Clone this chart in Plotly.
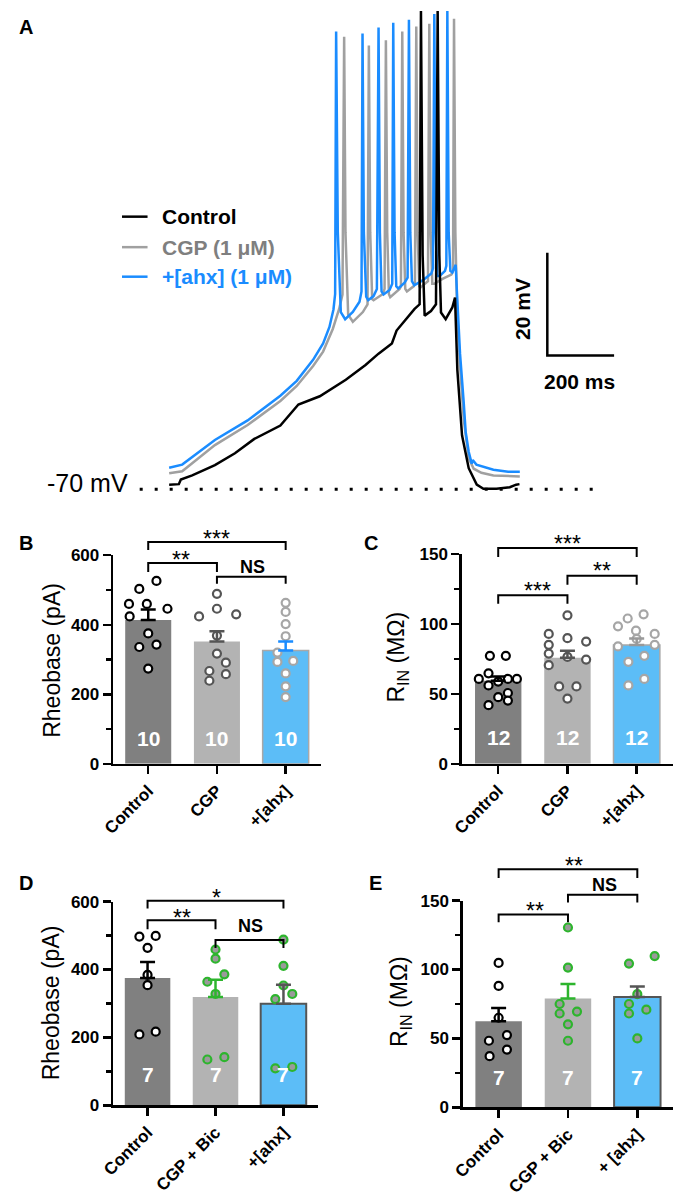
import plotly.graph_objects as go

W, H = 675, 1199
FONT = "Arial, 'Liberation Sans', sans-serif"

# ---------------- Panel A data: membrane potential traces (ms, mV) ----------------
ctrl_t = [0, 29, 35, 69, 137, 197, 255, 333, 387, 451, 529, 588, 627, 667, 681, 706, 735, 750,
          754, 759, 765, 784, 799, 804, 809, 814, 828, 848, 856, 863, 877, 897, 921, 941, 980,
          1020, 1039, 1049]
ctrl_v = [-69.1, -69.0, -68.1, -67.3, -65.3, -63.0, -60.2, -57.6, -53.5, -51.9, -48.7, -45.8,
          -43.6, -41.6, -39.1, -37.2, -34.9, -34.0, 23.1, -24.4, -36.2, -35.3, -34.0, 23.1,
          -24.4, -35.6, -36.9, -34.6, -32.7, -46.8, -59.5, -65.9, -69.1, -69.9, -69.9, -69.6,
          -69.1, -69.0]

cgp_t = [0, 39, 137, 235, 333, 382, 431, 461, 490, 509, 519, 524, 528, 536, 550, 580, 594, 598,
         602, 608, 612, 640, 645, 649, 653, 658, 662, 690, 694, 698, 702, 707, 712, 732, 736,
         740, 744, 749, 753, 770, 775, 779, 783, 788, 794, 820, 845, 850, 853, 857, 862, 871,
         882, 897, 912, 935, 971, 1050]
cgp_v = [-66.9, -66.5, -61.4, -57.5, -52.8, -49.9, -46.0, -43.2, -38.8, -34.9, -32.1, 18.1,
         -20, -36, -37.4, -35.5, -34, 16.4, -20, -33, -33.2, -32, -31, 17.4, -20, -32, -32.6,
         -31, -30.5, 19.1, -20, -31, -31.5, -30.5, -30, 20.1, -20, -30.5, -30.7, -29.8, -29.5,
         20.6, -20, -30, -30.0, -29, -28.2, -27.5, 21.6, -20, -35, -46.0, -56.3, -64.0, -66.0,
         -66.8, -67.3, -67.5]

ahx_t = [0, 39, 137, 235, 333, 382, 431, 461, 480, 492, 497, 500, 505, 514, 527, 550, 570, 576,
         579, 583, 590, 596, 612, 622, 627, 631, 636, 642, 660, 668, 671, 675, 680, 686, 705,
         714, 718, 722, 727, 734, 760, 785, 790, 794, 798, 803, 810, 826, 830, 833, 837, 842,
         848, 858, 862, 871, 882, 888, 897, 906, 909, 920, 971, 1015, 1050]
ahx_v = [-65.8, -65.2, -60.4, -56.6, -51.8, -48.9, -44.8, -41.6, -38.4, -35.0, -32.0, 19.1,
         -20, -35.5, -36.9, -35.5, -33.5, -31.5, 18.7, -20, -32.5, -33.2, -32.4, -31.0, 19.9,
         -20, -31.5, -32.1, -31.2, -30.0, 20.8, -20, -30.5, -30.9, -29.8, -28.8, 21.4, -20,
         -29.5, -30.3, -29.3, -28.0, -27.0, 22.5, -20, -28.5, -28.5, -27.5, -26.5, 23.1, -20,
         -27.5, -27.8, -26.3, -32, -43.6, -53.1, -58.9, -62.7, -65.0, -64.3, -65.2, -66.2,
         -66.6, -66.6]

trace_names = ["Control", "CGP (1 \u03bcM)", "+[ahx] (1 \u03bcM)"]
SCALE_MS = 200
SCALE_MV = 20
REST_MV = -70

# ---------------- Panel B: rheobase (pA) ----------------
B_labels = ["Control", "CGP", "+[ahx]"]
B_mean = [414, 352, 326]
B_sem = [30, 29, 26]
B_n = ["10", "10", "10"]
B_ctrl = [526, 503, 460, 460, 446, 424, 375, 336, 343, 274]
B_cgp = [489, 424, 446, 430, 369, 317, 291, 267, 258, 239]
B_ahx = [463, 437, 402, 367, 320, 296, 293, 260, 223, 192]
B_sig = ["***", "**", "NS"]

# ---------------- Panel C: input resistance (MOhm) ----------------
C_labels = ["Control", "CGP", "+[ahx]"]
C_mean = [59.5, 76, 85]
C_sem = [3, 5, 4.7]
C_n = ["12", "12", "12"]
C_ctrl = [77.3, 77.3, 64.8, 60.8, 58.9, 60.8, 60.8, 56.1, 50.7, 47.7, 45.3, 42.0]
C_cgp = [106.3, 93, 89.9, 87.5, 85.2, 78.9, 76.5, 74.6, 70.6, 55.4, 55.4, 46.7]
C_ahx = [98.4, 104, 107, 95.3, 93, 84, 85.2, 89.4, 73, 77.3, 56.1, 60.8]
C_sig = ["***", "**", "***"]

# ---------------- Panel D: rheobase (pA), with bicuculline ----------------
D_labels = ["Control", "CGP + Bic", "+[ahx]"]
D_mean = [375, 319, 299]
D_sem = [47, 51, 56]
D_n = ["7", "7", "7"]
D_ctrl = [497, 499, 464, 384, 354, 209, 217]
D_cgp = [459, 432, 386, 364, 328, 135, 142]
D_ahx = [488, 411, 353, 313, 328, 109, 113]
D_sig = ["*", "**", "NS"]

# ---------------- Panel E: input resistance (MOhm), with bicuculline ----------------
E_labels = ["Control", "CGP + Bic", "+ [ahx]"]
E_mean = [62.5, 79, 80]
E_sem = [9.6, 10.5, 7.6]
E_n = ["7", "7", "7"]
E_ctrl = [104.8, 88.1, 65, 48.3, 52.4, 37.1, 41.9]
E_cgp = [130.5, 101.4, 75, 68.1, 69.5, 60.2, 48.3]
E_ahx = [109.8, 104.3, 82.1, 75, 68.1, 70.9, 50]
E_sig = ["**", "NS", "**"]

# ---------------- jitter offsets of the scatter dots (category units) ----------------
B_ctrl_jit = [0.12, -0.13, -0.28, -0.02, 0.28, -0.27, 0, -0.13, 0.12, 0]
B_cgp_jit = [0, -0.26, 0, 0.28, 0, 0, 0.13, -0.11, 0.13, -0.11]
B_ahx_jit = [0, 0, 0, 0, -0.12, 0.11, -0.12, 0, 0, 0]
C_ctrl_jit = [-0.12, 0.11, -0.14, -0.28, 0, 0.14, 0.27, -0.14, 0.14, 0, 0.14, -0.14]
C_cgp_jit = [0, -0.27, 0, 0.27, -0.27, -0.27, 0, 0.27, -0.27, -0.12, 0.13, 0]
C_ahx_jit = [-0.27, -0.13, 0.1, -0.01, 0.26, -0.27, 0.26, 0, -0.12, 0.11, -0.12, 0.11]
D_ctrl_jit = [-0.12, 0.12, 0, 0, 0, -0.12, 0.12]
D_cgp_jit = [0, 0, 0.13, -0.12, 0, -0.12, 0.13]
D_ahx_jit = [0, 0, 0, -0.12, 0.13, -0.12, 0.13]
E_ctrl_jit = [0, 0, 0, -0.14, 0.12, -0.13, 0.12]
E_cgp_jit = [0, 0, -0.12, -0.12, 0.13, 0, 0]
E_ahx_jit = [0.25, -0.12, 0, -0.12, -0.12, 0.13, 0]

# ---------------- styles ----------------
TR_COLORS = ["#000000", "#a0a0a0", "#1a8cff"]
LEG_TEXT = ["#000000", "#7f7f7f", "#1a8cff"]
BAR_FILL = ["#808080", "#b3b3b3", "#5cbdf7"]
GREEN = "#2db52d"


def xp(p):
    return p / W


def yp(p):
    return 1 - p / H


def txt(text, x, y, size, color="black", xanchor="center", yanchor="middle", angle=0,
        xref="paper", yref="paper"):
    return dict(text=text, x=x, y=y, xref=xref, yref=yref, xanchor=xanchor, yanchor=yanchor,
                textangle=angle, showarrow=False, font=dict(family=FONT, size=size, color=color))


fig = go.Figure()
annotations = []
shapes = []

# ================= Panel A =================
# pixel mapping: t=0 at x=160 px, 0.34 px/ms ; -70 mV at y=488 px, 5.22 px/mV
A_xrange = [(0 - 160) / 0.34, (W - 160) / 0.34]
A_yrange = [REST_MV - (500 - 488) / 5.22, REST_MV + 488 / 5.22]
for t, v, c in [(cgp_t, cgp_v, TR_COLORS[1]), (ahx_t, ahx_v, TR_COLORS[2]), (ctrl_t, ctrl_v, TR_COLORS[0])]:
    fig.add_trace(go.Scatter(x=t, y=v, mode="lines", line=dict(color=c, width=2.5),
                             xaxis="x", yaxis="y", showlegend=False, cliponaxis=False,
                             hoverinfo="skip"))

# dotted -70 mV baseline
shapes.append(dict(type="line", xref="x", yref="y", x0=(130 - 160) / 0.34, x1=(600 - 160) / 0.34,
                   y0=REST_MV, y1=REST_MV, line=dict(color="black", width=3, dash="3px,12px")))
annotations.append(txt("-70 mV", xp(120), yp(482), 25, xanchor="right"))
# scale bar
sb_t0 = (545 - 160) / 0.34
sb_v0 = REST_MV + (488 - 352) / 5.22
shapes.append(dict(type="path", xref="x", yref="y",
                   path=f"M {sb_t0},{sb_v0 + SCALE_MV} L {sb_t0},{sb_v0} L {sb_t0 + SCALE_MS},{sb_v0}",
                   line=dict(color="black", width=2.5)))
annotations.append(txt(f"<b>{SCALE_MV} mV</b>", xp(519), yp(305), 21, angle=-90))
annotations.append(txt(f"<b>{SCALE_MS} ms</b>", xp(578), yp(378), 21))
# legend
for i, (nm, yy) in enumerate(zip(trace_names, [211, 242, 272])):
    shapes.append(dict(type="line", xref="paper", yref="paper", x0=xp(112), x1=xp(138),
                       y0=yp(yy), y1=yp(yy), line=dict(color=TR_COLORS[i], width=2.5)))
    annotations.append(txt(f"<b>{nm}</b>", xp(151), yp(yy), 21, color=LEG_TEXT[i], xanchor="left"))

# panel letters
for L, xx, yy in [("A", 14, 18), ("B", 14, 543), ("C", 365, 543), ("D", 14, 888), ("E", 370, 888)]:
    annotations.append(txt(f"<b>{L}</b>", xp(xx), yp(yy), 20))

layout_axes = {
    "xaxis": dict(domain=[0, 1], range=A_xrange, visible=False, fixedrange=True),
    "yaxis": dict(domain=[yp(500), 1], range=A_yrange, visible=False, fixedrange=True),
}

# ================= Bar panels =================
panels = [
    dict(k=2, labels=B_labels, mean=B_mean, sem=B_sem, n=B_n, sig=B_sig,
         groups=[(B_ctrl, B_ctrl_jit), (B_cgp, B_cgp_jit), (B_ahx, B_ahx_jit)],
         xpix=(103, 315), xr=(-0.51, 2.52), ypix=(767, 555), ymax=600,
         major=[0, 200, 400, 600], minor=[100, 300, 500], ntext_y=72,
         bar_line=["#808080", "#b3b3b3", "#a8a8a8"], bar_lw=[0, 0, 1.5],
         err=["#000000", "#555555", "#1a8cff"],
         dot_fill=["white", "white", "white"], dot_line=["#000000", "#555555", "#a6a6a6"],
         title="Rheobase (pA)", title_xy=(40, 662),
         brackets=[(0, 2, 541.7, 8, 1.0, 534), (0, 1, 563, 9, 0.48, 555), (1, 2, 577, 7, 1.52, 567)]),
    dict(k=3, labels=C_labels, mean=C_mean, sem=C_sem, n=C_n, sig=C_sig,
         groups=[(C_ctrl, C_ctrl_jit), (C_cgp, C_cgp_jit), (C_ahx, C_ahx_jit)],
         xpix=(458, 673), xr=(-0.525, 2.525), ypix=(767, 554), ymax=150,
         major=[0, 50, 100, 150], minor=[25, 75, 125], ntext_y=19,
         bar_line=["#808080", "#b3b3b3", "#a8a8a8"], bar_lw=[0, 0, 1.5],
         err=["#000000", "#555555", "#999999"],
         dot_fill=["white", "white", "white"], dot_line=["#000000", "#555555", "#a6a6a6"],
         title="R<sub>IN</sub> (M\u03a9)", title_xy=(393, 659),
         brackets=[(0, 2, 547.7, 9, 1.0, 539), (1, 2, 576, 9, 1.5, 566), (0, 1, 595.7, 8.5, 0.57, 586)]),
    dict(k=4, labels=D_labels, mean=D_mean, sem=D_sem, n=D_n, sig=D_sig,
         groups=[(D_ctrl, D_ctrl_jit), (D_cgp, D_cgp_jit), (D_ahx, D_ahx_jit)],
         xpix=(103, 312), xr=(-0.506, 2.515), ypix=(1114, 907), ymax=600,
         major=[0, 200, 400, 600], minor=[100, 300, 500], ntext_y=90,
         bar_line=["#808080", "#b3b3b3", "#555555"], bar_lw=[0, 0, 2],
         err=["#000000", GREEN, "#555555"],
         dot_fill=["white", "#9a9a9a", "#9a9a9a"], dot_line=["#000000", GREEN, GREEN],
         title="Rheobase (pA)", title_xy=(40, 1010),
         brackets=[(0, 2, 906, 8, 1.02, 898), (0, 1, 926, 9, 0.5, 919), (1, 2, 946, 8, 1.51, 932)]),
    dict(k=5, labels=E_labels, mean=E_mean, sem=E_sem, n=E_n, sig=E_sig,
         groups=[(E_ctrl, E_ctrl_jit), (E_cgp, E_cgp_jit), (E_ahx, E_ahx_jit)],
         xpix=(459, 673), xr=(-0.516, 2.515), ypix=(1116, 906), ymax=150,
         major=[0, 50, 100, 150], minor=[25, 75, 125], ntext_y=22,
         bar_line=["#808080", "#b3b3b3", "#555555"], bar_lw=[0, 0, 2],
         err=["#000000", GREEN, "#555555"],
         dot_fill=["white", "#9a9a9a", "#9a9a9a"], dot_line=["#000000", GREEN, GREEN],
         title="R<sub>IN</sub> (M\u03a9)", title_xy=(395, 1008),
         brackets=[(0, 2, 874, 9, 1.08, 866), (1, 2, 900, 8, 1.52, 890), (0, 1, 920, 8, 0.53, 912)]),
]

for P in panels:
    k = P["k"]
    xa, ya = f"x{k}", f"y{k}"
    idx = [0, 1, 2]
    # bars
    fig.add_trace(go.Bar(x=idx, y=P["mean"], width=0.67, xaxis=xa, yaxis=ya,
                         marker=dict(color=BAR_FILL, line=dict(color=P["bar_line"], width=P["bar_lw"])),
                         showlegend=False, hoverinfo="skip"))
    # dots
    for g, (vals, jit) in enumerate(P["groups"]):
        fig.add_trace(go.Scatter(x=[g + j for j in jit], y=vals, mode="markers", xaxis=xa, yaxis=ya,
                                 marker=dict(size=8, color=P["dot_fill"][g],
                                             line=dict(color=P["dot_line"][g], width=2.2)),
                                 cliponaxis=False, showlegend=False, hoverinfo="skip"))
    # error bars (SEM, upward only)
    for g in idx:
        fig.add_trace(go.Scatter(x=[g], y=[P["mean"][g]], mode="markers", xaxis=xa, yaxis=ya,
                                 marker=dict(size=1, color="rgba(0,0,0,0)"),
                                 error_y=dict(type="data", array=[P["sem"][g]], arrayminus=[0],
                                              symmetric=False, color=P["err"][g], thickness=2.5, width=7.5),
                                 cliponaxis=False, showlegend=False, hoverinfo="skip"))
    # n labels
    for g in idx:
        annotations.append(txt(f"<b>{P['n'][g]}</b>", g, P["ntext_y"], 21, color="white", xref=xa, yref=ya))
    # axes
    layout_axes["xaxis%d" % k] = dict(domain=[xp(P["xpix"][0]), xp(P["xpix"][1])], anchor=ya,
                                      range=list(P["xr"]), tickmode="array", tickvals=idx,
                                      ticktext=P["labels"], tickangle=-45, showline=True, linewidth=2.5,
                                      linecolor="black", ticks="outside", ticklen=8, tickwidth=2.5,
                                      tickcolor="black", showgrid=False, zeroline=False, fixedrange=True,
                                      tickfont=dict(family=FONT, size=17, color="black", weight="bold"))
    layout_axes["yaxis%d" % k] = dict(domain=[yp(P["ypix"][0]), yp(P["ypix"][1])], anchor=xa,
                                      range=[0, P["ymax"]], tickmode="array", tickvals=P["major"],
                                      showline=True, linewidth=2.5, linecolor="black", ticks="outside",
                                      ticklen=8, tickwidth=2.5, tickcolor="black", showgrid=False,
                                      zeroline=False, fixedrange=True,
                                      minor=dict(tickmode="array", tickvals=P["minor"], ticks="outside",
                                                 ticklen=5, tickwidth=2.5, tickcolor="black", showgrid=False),
                                      tickfont=dict(family=FONT, size=17, color="black", weight="bold"))
    # y title
    annotations.append(txt(P["title"], xp(P["title_xy"][0]), yp(P["title_xy"][1]), 23, angle=-90))
    # significance brackets
    for (i0, i1, ly, drop, tx, ty), lab in zip(P["brackets"], P["sig"]):
        shapes.append(dict(type="path", xref=xa, yref="paper",
                           path=f"M {i0},{yp(ly + drop)} L {i0},{yp(ly)} L {i1},{yp(ly)} L {i1},{yp(ly + drop)}",
                           line=dict(color="black", width=2)))
        is_star = "*" in lab
        annotations.append(txt(lab if is_star else f"<b>{lab}</b>", tx, yp(ty + (5 if is_star else 0)),
                               23 if is_star else 18, xref=xa))

fig.update_layout(width=W, height=H, margin=dict(l=0, r=0, t=0, b=0),
                  paper_bgcolor="white", plot_bgcolor="rgba(0,0,0,0)",
                  showlegend=False, bargap=0, annotations=annotations, shapes=shapes,
                  font=dict(family=FONT), **layout_axes)

fig.write_html("out.html", config={"displayModeBar": False, "staticPlot": True},
               post_script="document.body.style.margin='0';document.body.style.padding='0';"
                           "document.documentElement.style.overflow='hidden';")
